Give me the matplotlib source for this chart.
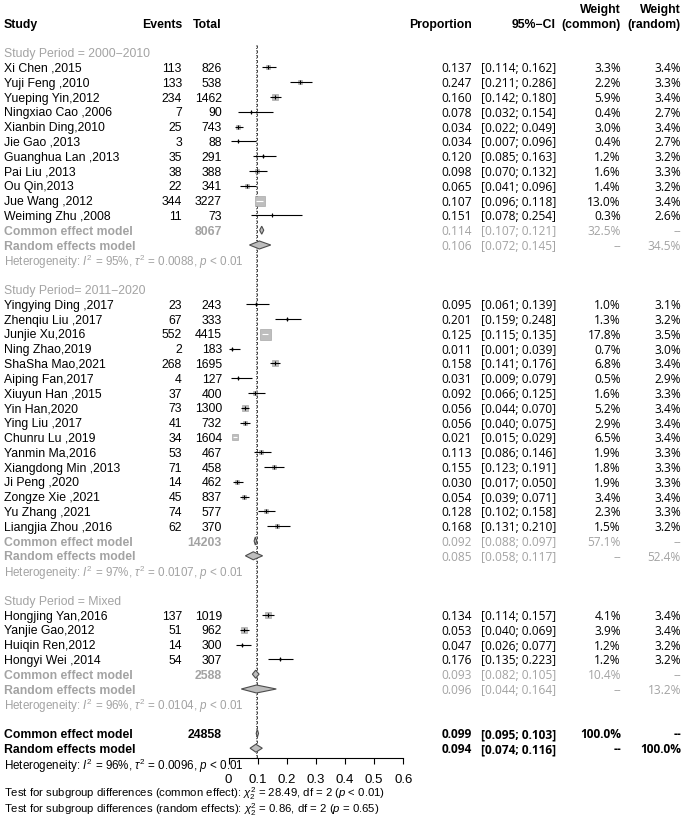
import numpy as np
import matplotlib.pyplot as plt

plt.rcParams['font.family'] = ['Liberation Sans', 'DejaVu Sans']
plt.rcParams['mathtext.fontset'] = 'custom'
plt.rcParams['mathtext.rm'] = 'Liberation Sans'
plt.rcParams['mathtext.it'] = 'Liberation Sans:italic'
plt.rcParams['mathtext.bf'] = 'Liberation Sans:bold'

# ---- data ----
# Study Period = 2000-2010
names1 = ["Xi Chen ,2015", "Yuji Feng ,2010", "Yueping Yin,2012", "Ningxiao Cao ,2006",
          "Xianbin Ding,2010", "Jie Gao ,2013", "Guanghua Lan ,2013", "Pai Liu ,2013",
          "Ou Qin,2013", "Jue Wang ,2012", "Weiming Zhu ,2008"]
events1 = [113, 133, 234, 7, 25, 3, 35, 38, 22, 344, 11]
total1 = [826, 538, 1462, 90, 743, 88, 291, 388, 341, 3227, 73]
prop1 = [0.137, 0.247, 0.160, 0.078, 0.034, 0.034, 0.120, 0.098, 0.065, 0.107, 0.151]
lo1 = [0.114, 0.211, 0.142, 0.032, 0.022, 0.007, 0.085, 0.070, 0.041, 0.096, 0.078]
hi1 = [0.162, 0.286, 0.180, 0.154, 0.049, 0.096, 0.163, 0.132, 0.096, 0.118, 0.254]
wc1 = [3.3, 2.2, 5.9, 0.4, 3.0, 0.4, 1.2, 1.6, 1.4, 13.0, 0.3]
wr1 = [3.4, 3.3, 3.4, 2.7, 3.4, 2.7, 3.2, 3.3, 3.2, 3.4, 2.6]

# Study Period = 2011-2020
names2 = ["Yingying Ding ,2017", "Zhenqiu Liu ,2017", "Junjie Xu,2016", "Ning Zhao,2019",
          "ShaSha Mao,2021", "Aiping Fan,2017", "Xiuyun Han ,2015", "Yin Han,2020",
          "Ying Liu ,2017", "Chunru Lu ,2019", "Yanmin Ma,2016", "Xiangdong Min ,2013",
          "Ji Peng ,2020", "Zongze Xie ,2021", "Yu Zhang ,2021", "Liangjia Zhou ,2016"]
events2 = [23, 67, 552, 2, 268, 4, 37, 73, 41, 34, 53, 71, 14, 45, 74, 62]
total2 = [243, 333, 4415, 183, 1695, 127, 400, 1300, 732, 1604, 467, 458, 462, 837, 577, 370]
prop2 = [0.095, 0.201, 0.125, 0.011, 0.158, 0.031, 0.092, 0.056, 0.056, 0.021, 0.113,
         0.155, 0.030, 0.054, 0.128, 0.168]
lo2 = [0.061, 0.159, 0.115, 0.001, 0.141, 0.009, 0.066, 0.044, 0.040, 0.015, 0.086,
       0.123, 0.017, 0.039, 0.102, 0.131]
hi2 = [0.139, 0.248, 0.135, 0.039, 0.176, 0.079, 0.125, 0.070, 0.075, 0.029, 0.146,
       0.191, 0.050, 0.071, 0.158, 0.210]
wc2 = [1.0, 1.3, 17.8, 0.7, 6.8, 0.5, 1.6, 5.2, 2.9, 6.5, 1.9, 1.8, 1.9, 3.4, 2.3, 1.5]
wr2 = [3.1, 3.2, 3.5, 3.0, 3.4, 2.9, 3.3, 3.4, 3.4, 3.4, 3.3, 3.3, 3.3, 3.4, 3.3, 3.2]

# Study Period = Mixed
names3 = ["Hongjing Yan,2016", "Yanjie Gao,2012", "Huiqin Ren,2012", "Hongyi Wei ,2014"]
events3 = [137, 51, 14, 54]
total3 = [1019, 962, 300, 307]
prop3 = [0.134, 0.053, 0.047, 0.176]
lo3 = [0.114, 0.040, 0.026, 0.135]
hi3 = [0.157, 0.069, 0.077, 0.223]
wc3 = [4.1, 3.9, 1.2, 1.2]
wr3 = [3.4, 3.4, 3.2, 3.2]

group_labels = ["Study Period = 2000\u22122010", "Study Period= 2011\u22122020",
                "Study Period = Mixed"]
group_n = [8067, 14203, 2588]
# common effect: est, lo, hi, weight
group_common = [(0.114, 0.107, 0.121, "32.5%"), (0.092, 0.088, 0.097, "57.1%"),
                (0.093, 0.082, 0.105, "10.4%")]
group_random = [(0.106, 0.072, 0.145, "34.5%"), (0.085, 0.058, 0.117, "52.4%"),
                (0.096, 0.044, 0.164, "13.2%")]
group_i2 = ["95%", "97%", "96%"]
group_tau2 = ["0.0088", "0.0107", "0.0104"]

overall_n = 24858
overall_common = (0.099, 0.095, 0.103, "100.0%")
overall_random = (0.094, 0.074, 0.116, "100.0%")
overall_i2, overall_tau2 = "96%", "0.0096"

xticks = [0, 0.1, 0.2, 0.3, 0.4, 0.5, 0.6]
xticklabels = ["0", "0.1", "0.2", "0.3", "0.4", "0.5", "0.6"]

groups = [
    dict(names=names1, ev=events1, n=total1, p=prop1, lo=lo1, hi=hi1, wc=wc1, wr=wr1),
    dict(names=names2, ev=events2, n=total2, p=prop2, lo=lo2, hi=hi2, wc=wc2, wr=wr2),
    dict(names=names3, ev=events3, n=total3, p=prop3, lo=lo3, hi=hi3, wc=wc3, wr=wr3),
]

# ---- layout ----
W, H = 685, 819
Y0, DY = 23, 14.8
AX_Y = 758
X0, X6 = 228.5, 403.3


def row_of(ypx):
    return (ypx - Y0) / DY


GRAY = '#a3a3a3'
NUMFONT = ['Open Sans', 'DejaVu Sans']
FS = 8.8
NFS = 8.6
HFS = 8.4

STUDY_X, EV_X, TOT_X = 4, 182, 222
PROP_X, CI_X, WC_X, WR_X = 472, 556, 621, 681

fig = plt.figure(figsize=(W / 100, H / 100), dpi=100)
tx = fig.add_axes([0, 0, 1, 1])
tx.set_xlim(0, W)
tx.set_ylim(row_of(H), row_of(0))
tx.axis('off')

fx = fig.add_axes([X0 / W, (H - AX_Y) / H, (X6 - X0) / W, AX_Y / H])
fx.set_xlim(0, 0.6)
fx.set_ylim(row_of(AX_Y), row_of(0))
fx.patch.set_visible(False)
for s in ['top', 'left', 'right']:
    fx.spines[s].set_visible(False)
fx.spines['bottom'].set_bounds(0, 0.6)
fx.spines['bottom'].set_linewidth(0.8)
fx.set_yticks([])
fx.set_xticks(xticks)
fx.set_xticklabels(xticklabels, fontsize=9.5)
fx.tick_params(axis='x', length=4.5, width=0.8, pad=7)

px_per_unit = (X6 - X0) / 0.6
max_w = max(max(wc1), max(wc2), max(wc3))


def left(row, s, color='black', bold=False, x=STUDY_X, ha='left', font=None, size=FS):
    tx.text(x, row, s, ha=ha, va='center_baseline', color=color, fontsize=size,
            fontweight='bold' if bold else 'normal', family=font)


def right_vals(row, est, lo, hi, wcs, wrs, color='black', bold=False):
    w = 'bold' if bold else 'normal'
    tx.text(PROP_X, row, f"{est:.3f}", ha='right', va='center_baseline', color=color,
            fontsize=NFS, family=NUMFONT, fontweight=w)
    tx.text(CI_X, row, f"[{lo:.3f}; {hi:.3f}]", ha='right', va='center_baseline',
            color=color, fontsize=NFS, family=NUMFONT, fontweight=w)
    tx.text(WC_X, row, wcs, ha='right', va='center_baseline', color=color,
            fontsize=NFS, family=NUMFONT, fontweight=w)
    tx.text(WR_X, row, wrs, ha='right', va='center_baseline', color=color,
            fontsize=NFS, family=NUMFONT, fontweight=w)


def diamond(row, est, lo, hi, h=0.27):
    fx.fill([lo, est, hi, est], [row, row - h, row, row + h], facecolor='#bdbdbd',
            edgecolor='#4d4d4d', linewidth=0.8, zorder=3, clip_on=False)


def het_text(i2, tau2):
    return (r"Heterogeneity: $I^2$ = " + i2 + r", $\tau^2$ = " + tau2
            + r", $p$ < 0.01")


# header
left(0, "Study", bold=True)
left(0, "Events", bold=True, x=EV_X, ha='right')
left(0, "Total", bold=True, x=TOT_X, ha='right')
left(0, "Proportion", bold=True, x=PROP_X, ha='right')
left(0, "95%\u2212CI", bold=True, x=CI_X, ha='right')
left(-1, "Weight", bold=True, x=WC_X, ha='right')
left(0, "(common)", bold=True, x=WC_X, ha='right')
left(-1, "Weight", bold=True, x=WR_X, ha='right')
left(0, "(random)", bold=True, x=WR_X, ha='right')

row = 2
for gi, g in enumerate(groups):
    left(row, group_labels[gi], color=GRAY)
    row += 1
    for k in range(len(g['names'])):
        left(row, g['names'][k])
        left(row, str(g['ev'][k]), x=EV_X, ha='right')
        left(row, str(g['n'][k]), x=TOT_X, ha='right')
        right_vals(row, g['p'][k], g['lo'][k], g['hi'][k],
                   f"{g['wc'][k]:.1f}%", f"{g['wr'][k]:.1f}%")
        # square sized by common-effect weight, CI line on top
        side_px = 11 * np.sqrt(g['wc'][k] / max_w)
        fx.plot(g['p'][k], row, marker='s', markersize=side_px * 0.72,
                markerfacecolor='#bebebe', markeredgecolor='#9a9a9a',
                markeredgewidth=0.4, zorder=3, clip_on=False)
        inside = (g['hi'][k] - g['lo'][k]) * px_per_unit < side_px
        fx.hlines(row, g['lo'][k], g['hi'][k], colors='white' if inside else 'black',
                  linewidth=0.8, zorder=4, clip_on=False)
        if not inside:
            fx.plot(g['p'][k], row, marker='|', markersize=3, color='black',
                    markeredgewidth=0.8, zorder=4, clip_on=False)
        row += 1
    c = group_common[gi]
    r_ = group_random[gi]
    left(row, "Common effect model", color=GRAY, bold=True)
    left(row, str(group_n[gi]), color=GRAY, bold=True, x=TOT_X, ha='right')
    right_vals(row, c[0], c[1], c[2], c[3], "--", color=GRAY)
    diamond(row, c[0], c[1], c[2])
    row += 1
    left(row, "Random effects model", color=GRAY, bold=True)
    right_vals(row, r_[0], r_[1], r_[2], "--", r_[3], color=GRAY)
    diamond(row, r_[0], r_[1], r_[2])
    row += 1
    left(row, het_text(group_i2[gi], group_tau2[gi]), color=GRAY, size=HFS)
    row += 2

# overall
left(row, "Common effect model", bold=True)
left(row, str(overall_n), bold=True, x=TOT_X, ha='right')
right_vals(row, *overall_common[:3], overall_common[3], "--", bold=True)
diamond(row, *overall_common[:3])
row += 1
left(row, "Random effects model", bold=True)
right_vals(row, *overall_random[:3], "--", overall_random[3], bold=True)
diamond(row, *overall_random[:3])
row += 1
left(row, het_text(overall_i2, overall_tau2), size=HFS)

# reference lines at the overall common and random estimates
ytop = row_of(45)
ybot = row_of(AX_Y)
fx.vlines(overall_common[0], ytop, ybot, colors='#444444', linewidth=0.7,
          linestyles=(0, (3, 2)), zorder=2, clip_on=False)
fx.vlines(overall_random[0], ytop, ybot, colors='#444444', linewidth=0.7,
          linestyles=(0, (1, 1.5)), zorder=2, clip_on=False)

left(row_of(791), r"Test for subgroup differences (common effect): $\chi^2_2$ = 28.49, df = 2 ($p$ < 0.01)",
     size=8.2)
left(row_of(807), r"Test for subgroup differences (random effects): $\chi^2_2$ = 0.86, df = 2 ($p$ = 0.65)",
     size=8.2)

fig.savefig('out.png', dpi=100)
